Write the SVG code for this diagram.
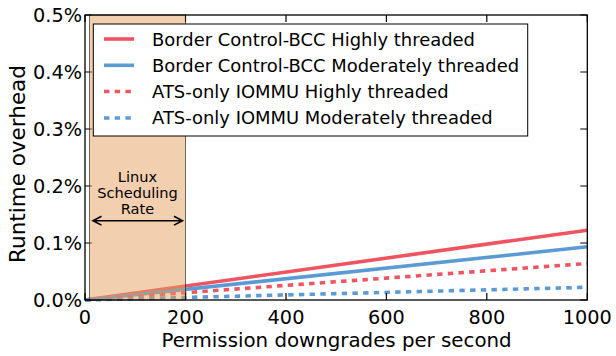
<svg xmlns="http://www.w3.org/2000/svg" width="616" height="356" viewBox="0 0 616 356">
<style>
text{font-family:"DejaVu Sans","Liberation Sans",sans-serif;fill:#000}
.tick{font-size:19.3px}
.lab{font-size:19.8px}
.leg{font-size:17.95px}
.ann{font-size:14.6px}
.rs{stroke:#ef5461;stroke-width:3.6;fill:none}
.bs{stroke:#5b9bd5;stroke-width:3.6;fill:none}
.dot{stroke-dasharray:5.4 5.3}
.tk{stroke:#000;stroke-width:1.2}
</style>
<rect width="616" height="356" fill="#fff"/>
<g id="data">
<line class="rs" x1="85" y1="300" x2="587.3" y2="230.2"/>
<line class="bs" x1="85" y1="300" x2="587.3" y2="246.8"/>
<line class="rs dot" x1="85" y1="300" x2="587.3" y2="263.5"/>
<line class="bs dot" x1="85" y1="300" x2="587.3" y2="287.3"/>
</g>
<g id="ticks">
<path class="tk" d="M85 300h7M85 243h7M85 186h7M85 129h7M85 72h7M85 15h7M587.3 300h-7M587.3 243h-7M587.3 186h-7M587.3 129h-7M587.3 72h-7M587.3 15h-7M85 300v-7M185.5 300v-7M286 300v-7M386.4 300v-7M486.8 300v-7M587.3 300v-7M85 15v7M185.5 15v7M286 15v7M386.4 15v7M486.8 15v7M587.3 15v7"/>
</g>
<g id="shade">
<rect x="89.5" y="15" width="96" height="285" fill="#e59f5e" fill-opacity="0.5" stroke="#000" stroke-opacity="0.55" stroke-width="1"/>
<text class="ann" x="137.5" y="182" text-anchor="middle">Linux</text>
<text class="ann" x="137.5" y="198" text-anchor="middle">Scheduling</text>
<text class="ann" x="137.5" y="214.3" text-anchor="middle">Rate</text>
<path d="M93 220.7H182.5M101.5 216.3L93 220.7L101.5 225.1M174 216.3L182.5 220.7L174 225.1" stroke="#000" stroke-width="1.6" fill="none"/>
</g>
<rect id="frame" x="85" y="15" width="502.3" height="285" fill="none" stroke="#000" stroke-width="1.3"/>
<g id="ytl">
<text class="tick" x="82" y="306.5" text-anchor="end">0.0%</text>
<text class="tick" x="82" y="249.5" text-anchor="end">0.1%</text>
<text class="tick" x="82" y="192.5" text-anchor="end">0.2%</text>
<text class="tick" x="82" y="135.5" text-anchor="end">0.3%</text>
<text class="tick" x="82" y="78.5" text-anchor="end">0.4%</text>
<text class="tick" x="82" y="21.5" text-anchor="end">0.5%</text>
</g>
<g id="xtl">
<text class="tick" x="85" y="324" text-anchor="middle">0</text>
<text class="tick" x="185.5" y="324" text-anchor="middle">200</text>
<text class="tick" x="286" y="324" text-anchor="middle">400</text>
<text class="tick" x="386.4" y="324" text-anchor="middle">600</text>
<text class="tick" x="486.8" y="324" text-anchor="middle">800</text>
<text class="tick" x="587.3" y="324" text-anchor="middle">1000</text>
</g>
<text id="xlabel" class="lab" x="336.5" y="347" text-anchor="middle">Permission downgrades per second</text>
<text id="ylabel" x="25" y="164" text-anchor="middle" font-size="21.5" transform="rotate(-90 25 164)">Runtime overhead</text>
<g id="legend">
<rect x="93.3" y="24" width="434.4" height="112" fill="#fff" stroke="#000" stroke-width="1"/>
<line class="rs" x1="104" y1="39" x2="134" y2="39"/>
<line class="bs" x1="104" y1="65.3" x2="134" y2="65.3"/>
<line class="rs dot" x1="104" y1="91.5" x2="134" y2="91.5"/>
<line class="bs dot" x1="104" y1="118" x2="134" y2="118"/>
<text class="leg" x="152" y="45.5">Border Control-BCC Highly threaded</text>
<text class="leg" x="152" y="71.7">Border Control-BCC Moderately threaded</text>
<text class="leg" x="152" y="97.9">ATS-only IOMMU Highly threaded</text>
<text class="leg" x="152" y="124.2">ATS-only IOMMU Moderately threaded</text>
</g>
</svg>
